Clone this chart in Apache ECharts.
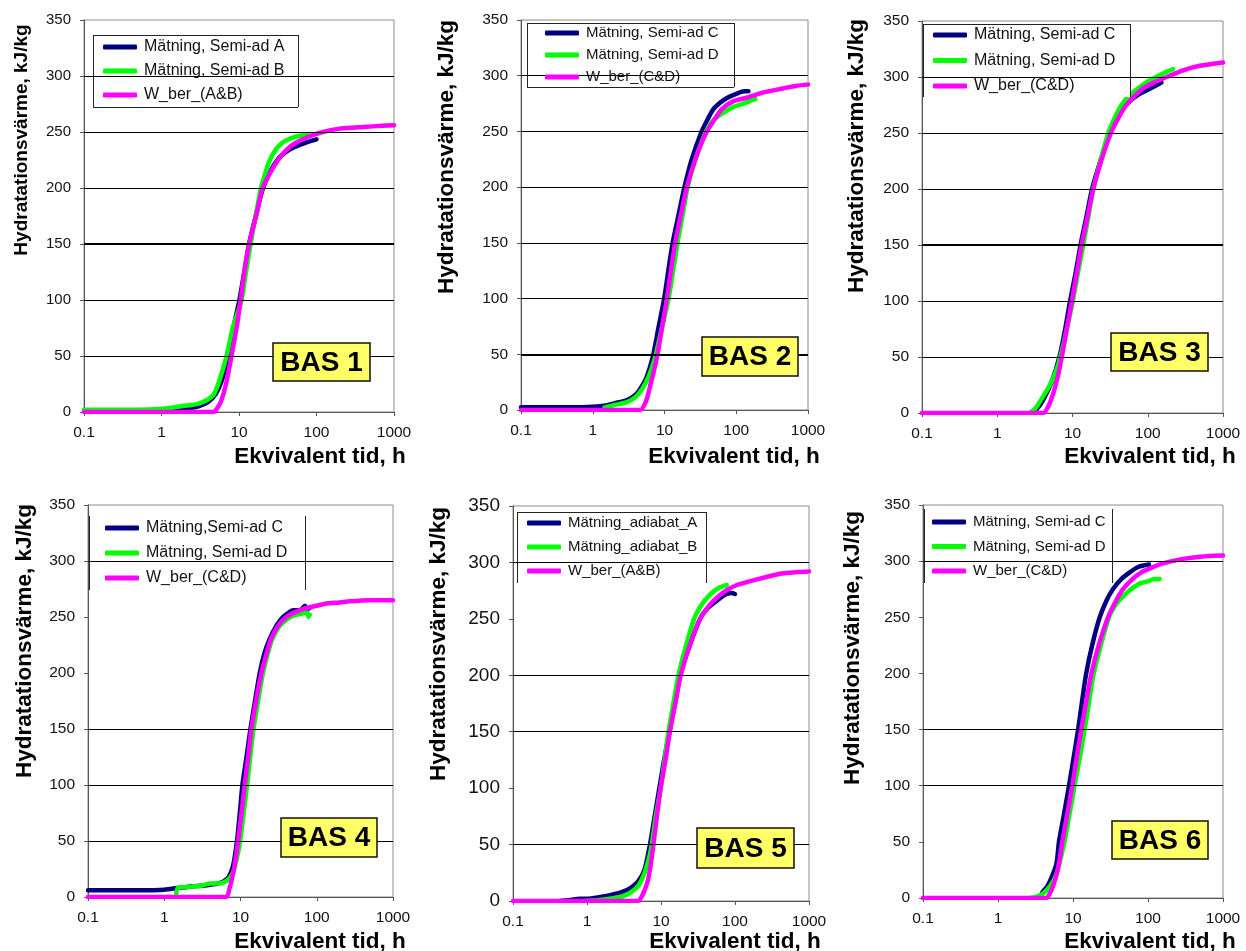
<!DOCTYPE html>
<html>
<head>
<meta charset="utf-8">
<script src="https://cdn.jsdelivr.net/npm/echarts@6/dist/echarts.min.js"></script>
<style>
  html, body { margin: 0; padding: 0; background: #fff; }
  #chart { width: 1246px; height: 951px; }
</style>
</head>
<body>
<div id="chart"></div>
<script>
// Hydration heat (kJ/kg) versus equivalent time (h), six concrete mixes BAS 1..6.
// Each curve is a list of [time h, heat kJ/kg] points.

const xTicks = [0.1, 1, 10, 100, 1000];
const yTicks = [0, 50, 100, 150, 200, 250, 300, 350];

// BAS 1
const bas1MeasA = [[0.1,1.5],[0.5,1.5],[1,1.8],[2,3],[3,5],[4,9],[5,16],[6,28],[7,46],[8,66],[9,84],[10,98],[11.5,122],[13.5,150],[16.6,176],[20,198],[25,214],[32,226],[40,232],[50,236],[70,240],[85,242],[100,243.5]];
const bas1MeasB = [[0.1,2],[0.5,2],[1,2.8],[1.7,5],[3.1,7.8],[4.66,15],[6,35],[6.9,50],[8.3,75],[10.8,100],[12.3,125],[14.1,150],[16.5,176],[19.2,200],[22,214],[25,225],[29.5,234],[35.5,240],[45,244],[55.6,246],[68,247],[78,247]];
const bas1Calc = [[0.1,0],[1,0],[4.66,0],[5.2,3],[5.9,10],[6.8,25],[8,50],[9.3,75],[10.5,100],[11.7,125],[13.5,150],[16.6,175],[20.2,200],[25,213],[32,225],[41,234],[52.8,240],[80,246],[121,250],[200,253],[400,254.5],[700,255.5],[1000,256]];

// BAS 2
const bas2MeasC = [[0.1,2.5],[0.5,2.5],[1,3],[1.5,4],[2,6],[3,9],[4,14],[4.6,19],[5.5,28],[6.3,39],[7,50],[8.3,75],[9.9,100],[11.3,125],[13,150],[15.7,175],[19,200],[24,225],[33,250],[40,261],[48,270],[60,276],[74,280],[102,284],[130,286],[148,286]];
const bas2MeasD = [[1.45,2],[2,4.5],[3,7],[4,12],[5,20],[6,30],[7,42],[7.6,50],[9.3,75],[11.4,100],[13.2,125],[15.2,150],[18,176],[21,200],[27,225],[38,250],[48,260],[60,265],[75,269],[92,272],[115,274],[141,276],[165,278],[185,279]];
const bas2Calc = [[0.1,0],[1,0],[4.6,0],[5.2,4],[5.8,12],[6.5,25],[7,33],[8,50],[9.3,75],[10.8,100],[12.3,125],[14.1,150],[17,176],[20.5,200],[26,222],[32,238],[39,250],[50,261],[63,270],[90,277],[134,280],[240,285],[400,288],[700,291],[1000,292]];

// BAS 3
const bas3MeasC = [[2.7,0],[3.3,3],[4.1,12],[5.3,28],[6.7,50],[8,75],[9.3,100],[11,125],[12.8,150],[15.3,175],[18.2,200],[23.5,225],[31.5,250],[40,264],[51,275],[70,283],[96,288],[125,292],[152,295]];
const bas3MeasD = [[2.7,0],[3.2,4],[4,14],[5,25],[6,37],[6.9,50],[8.4,75],[10.1,100],[11.8,125],[13.9,150],[16.2,175],[18.9,200],[23.5,225],[29.9,250],[36,263],[44.8,275],[58,284],[74.7,290],[100,296],[130,300],[170,304],[217,307]];
const bas3Calc = [[0.1,0],[1,0],[4.1,0],[4.7,5],[5.2,12],[5.7,20],[6.4,33],[7.2,50],[8.4,75],[9.8,100],[11.4,125],[13.2,150],[15.8,175],[18.9,200],[24,225],[32.4,250],[42,265],[52,275],[67,283],[87,290],[120,295],[178,300],[295,306],[490,310],[1000,313]];

// BAS 4
const bas4MeasC = [[0.1,6],[0.5,6],[1,6.5],[1.5,8],[2,9],[3,10],[4,11],[5,12],[6,14],[7,18],[8,28],[9,50],[9.8,75],[10.6,100],[12,125],[13.5,150],[15.5,175],[17.9,200],[20.5,217],[24,230],[30,243],[36,250],[43,254],[49,256],[60,256],[70,260],[75,257],[81,258]];
const bas4MeasD = [[1.44,3],[1.5,8],[2,9],[3,10],[4,12],[5,12],[6,13],[7,16],[8,22],[9,35],[9.9,50],[11,75],[12.2,100],[13.4,125],[14.8,150],[17,175],[19.7,200],[22.5,216],[26,230],[31,240],[36,245],[45,250],[53,252],[65,253],[75,254],[78,250],[81,252]];
const bas4Calc = [[0.1,0],[1,0],[6.5,0],[7.2,8],[7.95,20],[8.6,33],[9.3,50],[10.3,75],[11.35,100],[12.6,125],[13.9,150],[16,175],[18.8,200],[21.5,215],[25,230],[31,242],[40,250],[55,255],[73,258],[100,260],[134,262],[200,263],[270,264],[500,265],[1000,265]];

// BAS 5
const bas5MeasA = [[0.43,0],[0.6,1],[0.8,2],[1,2],[1.5,3.5],[2,5],[3,8],[4,12],[5,18],[6,28],[7.1,50],[8.2,75],[9.5,100],[11,125],[13,150],[15.4,175],[18.1,200],[24,225],[33.7,250],[42,259],[54,265],[65,269],[77,272],[90,273],[100,272]];
const bas5MeasB = [[0.9,0],[1.5,1],[2,2],[3,4],[4,8],[5,14],[6,25],[7,40],[7.5,50],[8.5,75],[9.9,100],[11.2,125],[12.6,150],[14.7,175],[17.2,200],[21.5,225],[28,250],[35,262],[43.7,270],[53,275],[63,278],[77.6,280]];
const bas5Calc = [[0.1,0],[1,0],[4.9,0],[5.6,5],[6.2,12],[6.75,20],[7.3,33],[7.9,50],[8.8,75],[9.9,100],[11.5,125],[13.2,150],[15.6,175],[18.5,200],[24,225],[33.7,250],[45,262],[59.8,270],[80,276],[106,280],[198,285],[407,290],[700,291.5],[1000,292]];

// BAS 6
const bas6MeasC = [[3.6,0],[4,6],[4.5,10],[5,16],[6,30],[6.5,50],[7.6,75],[8.85,100],[10.2,125],[11.7,150],[13.2,175],[15,200],[18,225],[22.7,250],[28,265],[34,275],[44,284],[57,290],[75,295],[103,297]];
const bas6MeasD = [[2.64,0],[3.2,1],[4,4],[5,11],[6,21],[7,38],[7.7,50],[9,75],[10.5,100],[12.3,125],[14.3,150],[16.4,175],[18.9,200],[23.5,225],[30.2,250],[38,262],[48.8,270],[62,276],[77.5,280],[100,282],[120,284],[143,284]];
const bas6Calc = [[0.1,0],[1,0],[4.4,0],[5,5],[5.5,12],[6,20],[6.6,33],[7.2,50],[8.4,75],[9.8,100],[11.2,125],[12.9,150],[15,175],[17.6,200],[22,225],[29.3,250],[37,264],[46.4,275],[62,284],[81.6,290],[110,294],[158,298],[293,302],[500,304],[1000,305]];

// Panel labels and legend names
const panelLabels = ['BAS 1', 'BAS 2', 'BAS 3', 'BAS 4', 'BAS 5', 'BAS 6'];
const seriesNames = [
  ['Mätning, Semi-ad A', 'Mätning, Semi-ad B', 'W_ber_(A&B)'],
  ['Mätning, Semi-ad C', 'Mätning, Semi-ad D', 'W_ber_(C&D)'],
  ['Mätning, Semi-ad C', 'Mätning, Semi-ad D', 'W_ber_(C&D)'],
  ['Mätning,Semi-ad C', 'Mätning, Semi-ad D', 'W_ber_(C&D)'],
  ['Mätning_adiabat_A', 'Mätning_adiabat_B', 'W_ber_(A&B)'],
  ['Mätning, Semi-ad C', 'Mätning, Semi-ad D', 'W_ber_(C&D)']
];
const seriesData = [
  [bas1MeasA, bas1MeasB, bas1Calc],
  [bas2MeasC, bas2MeasD, bas2Calc],
  [bas3MeasC, bas3MeasD, bas3Calc],
  [bas4MeasC, bas4MeasD, bas4Calc],
  [bas5MeasA, bas5MeasB, bas5Calc],
  [bas6MeasC, bas6MeasD, bas6Calc]
];
// Horizontal reference lines drawn in each panel, and the ones drawn heavier
const gridLines = [
  [50, 100, 150, 200, 250, 300],
  [50, 100, 150, 200, 250, 300],
  [50, 100, 150, 200, 250, 300],
  [50, 100, 150, 300],
  [50, 150, 200, 300],
  [100, 150, 300]
];
const heavyLines = [[150], [50], [150], [], [], []];

const xTitle = 'Ekvivalent tid, h';
const yTitle = 'Hydratationsvärme, kJ/kg';

// ---- layout & style ----
const FONT = '"Liberation Sans", Arial, sans-serif';
const COLORS = ['#000080', '#00ff00', '#ff00ff'];

const layout = [
  { grid: {left: 84, top: 20, width: 310, height: 392}, yFont: 15, yT: {x: 22, y: 140, s: 19}, xT: {x: 320, y: 457},
    leg: {left: 103, top: 38, gap: 6, font: 16}, box: {x: 93, y: 35, w: 205, h: 72, sides: 'tlrb'}, bas: {x: 273, y: 343, w: 97, h: 38} },
  { grid: {left: 521, top: 20, width: 287, height: 390}, yFont: 15.5, yT: {x: 447, y: 157, s: 22.5}, xT: {x: 734, y: 457},
    leg: {left: 545, top: 24, gap: 4, font: 15}, box: {x: 527, y: 23, w: 207, h: 64, sides: 'tlrb'}, bas: {x: 702, y: 337, w: 96, h: 39} },
  { grid: {left: 922, top: 21, width: 301, height: 392}, yFont: 15.5, yT: {x: 857, y: 156, s: 22.5}, xT: {x: 1150, y: 457},
    leg: {left: 933, top: 26, gap: 7.5, font: 16}, box: {x: 923, y: 24, w: 207, h: 73, sides: 'tlr'}, bas: {x: 1111, y: 333, w: 97, h: 38} },
  { grid: {left: 88, top: 505, width: 305, height: 392}, yFont: 15.5, yT: {x: 25, y: 641, s: 22.5}, xT: {x: 320, y: 942},
    leg: {left: 105, top: 519, gap: 7, font: 16}, box: {x: 89, y: 516, w: 216, h: 74, sides: 'lr'}, bas: {x: 281, y: 818, w: 96, h: 39} },
  { grid: {left: 513, top: 506, width: 296, height: 395}, yFont: 19, yT: {x: 439, y: 644, s: 22.5}, xT: {x: 735, y: 942},
    leg: {left: 527, top: 514, gap: 6, font: 15}, box: {x: 517, y: 512, w: 189, h: 71, sides: 'tlr'}, bas: {x: 697, y: 828, w: 97, h: 40} },
  { grid: {left: 923, top: 505, width: 300, height: 393}, yFont: 15.5, yT: {x: 853, y: 648, s: 22.5}, xT: {x: 1150, y: 942},
    leg: {left: 932, top: 513, gap: 6.5, font: 15}, box: {x: 924, y: 509, w: 188, h: 74, sides: 'lr'}, bas: {x: 1112, y: 821, w: 96, h: 38} }
];

const grids = [], xAxes = [], yAxes = [], series = [], legends = [], elements = [];

layout.forEach((L, i) => {
  grids.push(Object.assign({ show: true, borderColor: '#8c8c8c', borderWidth: 1, backgroundColor: 'transparent' }, L.grid));

  xAxes.push({
    type: 'log', logBase: 10, gridIndex: i,
    min: xTicks[0], max: xTicks[xTicks.length - 1],
    axisLine: { show: true, lineStyle: { color: '#555', width: 1 } },
    axisTick: { show: true, inside: false, length: 4, lineStyle: { color: '#555' } },
    minorTick: { show: false },
    splitLine: { show: false },
    axisLabel: {
      margin: 13, color: '#111', fontFamily: FONT, fontSize: 15.5,
      formatter: v => (v < 1 ? v.toFixed(1) : String(Math.round(v)))
    }
  });

  yAxes.push({
    type: 'value', gridIndex: i,
    min: yTicks[0], max: yTicks[yTicks.length - 1], interval: 50,
    axisLine: { show: true, lineStyle: { color: '#555', width: 1 } },
    axisTick: { show: true, inside: false, length: 4, lineStyle: { color: '#555' } },
    splitLine: { show: false },
    axisLabel: { margin: 13, color: '#111', fontFamily: FONT, fontSize: L.yFont }
  });

  // reference lines
  series.push({
    type: 'line', xAxisIndex: i, yAxisIndex: i, data: [], z: 1, silent: true,
    markLine: {
      silent: true, symbol: ['none', 'none'], label: { show: false }, animation: false,
      lineStyle: { color: '#000', width: 1, type: 'solid' },
      emphasis: { disabled: true },
      data: gridLines[i].map(v => ({ yAxis: v, lineStyle: { color: '#000', type: 'solid', width: heavyLines[i].includes(v) ? 2.2 : 1 } }))
    }
  });

  seriesData[i].forEach((d, k) => {
    series.push({
      name: seriesNames[i][k], type: 'line', xAxisIndex: i, yAxisIndex: i,
      data: d, showSymbol: false, symbol: 'none', smooth: 0.25,
      color: COLORS[k], z: 2 + k,
      lineStyle: { color: COLORS[k], width: 4.5, cap: 'round', join: 'round' },
      emphasis: { disabled: true }, animation: false
    });
  });

  legends.push({
    data: seriesNames[i].map(n => ({ name: n, icon: 'roundRect' })),
    orient: 'vertical', left: L.leg.left, top: L.leg.top, padding: 0,
    itemWidth: 34, itemHeight: 5, itemGap: L.leg.gap, z: 10,
    selectedMode: false,
    textStyle: { fontFamily: FONT, fontSize: L.leg.font, color: '#111', lineHeight: 18, padding: [0, 0, 0, 2] }
  });

  // legend frame (white fill hides reference lines behind it)
  const b = L.box;
  elements.push({ type: 'rect', shape: { x: b.x, y: b.y, width: b.w, height: b.h }, style: { fill: '#fff' }, z: 5, silent: true });
  const seg = (x1, y1, x2, y2) => elements.push({ type: 'line', shape: { x1, y1, x2, y2 }, style: { stroke: '#222', lineWidth: 1 }, z: 6, silent: true });
  if (b.sides.includes('t')) seg(b.x, b.y + 0.5, b.x + b.w, b.y + 0.5);
  if (b.sides.includes('b')) seg(b.x, b.y + b.h + 0.5, b.x + b.w, b.y + b.h + 0.5);
  if (b.sides.includes('l')) seg(b.x + 0.5, b.y, b.x + 0.5, b.y + b.h);
  if (b.sides.includes('r')) seg(b.x + b.w + 0.5, b.y, b.x + b.w + 0.5, b.y + b.h);

  // BAS label
  const s = L.bas;
  elements.push({ type: 'rect', shape: { x: s.x, y: s.y, width: s.w, height: s.h }, style: { fill: '#ffff66', stroke: '#111', lineWidth: 1.5 }, z: 7, silent: true });
  elements.push({ type: 'text', x: s.x + s.w / 2, y: s.y + s.h / 2 + 1, z: 8, silent: true,
    style: { text: panelLabels[i], font: 'bold 28px ' + FONT, fill: '#000', textAlign: 'center', textVerticalAlign: 'middle' } });

  // axis titles
  elements.push({ type: 'text', x: L.yT.x, y: L.yT.y, rotation: Math.PI / 2, z: 8, silent: true,
    style: { text: yTitle, font: 'bold ' + L.yT.s + 'px ' + FONT, fill: '#000', textAlign: 'center', textVerticalAlign: 'middle' } });
  elements.push({ type: 'text', x: L.xT.x, y: L.xT.y, z: 8, silent: true,
    style: { text: xTitle, font: 'bold 22.5px ' + FONT, fill: '#000', textAlign: 'center', textVerticalAlign: 'middle' } });
});

const chart = echarts.init(document.getElementById('chart'), null, { renderer: 'canvas' });
chart.setOption({
  animation: false,
  backgroundColor: '#fff',
  grid: grids,
  xAxis: xAxes,
  yAxis: yAxes,
  legend: legends,
  series: series,
  graphic: { elements: elements }
});
</script>
</body>
</html>
